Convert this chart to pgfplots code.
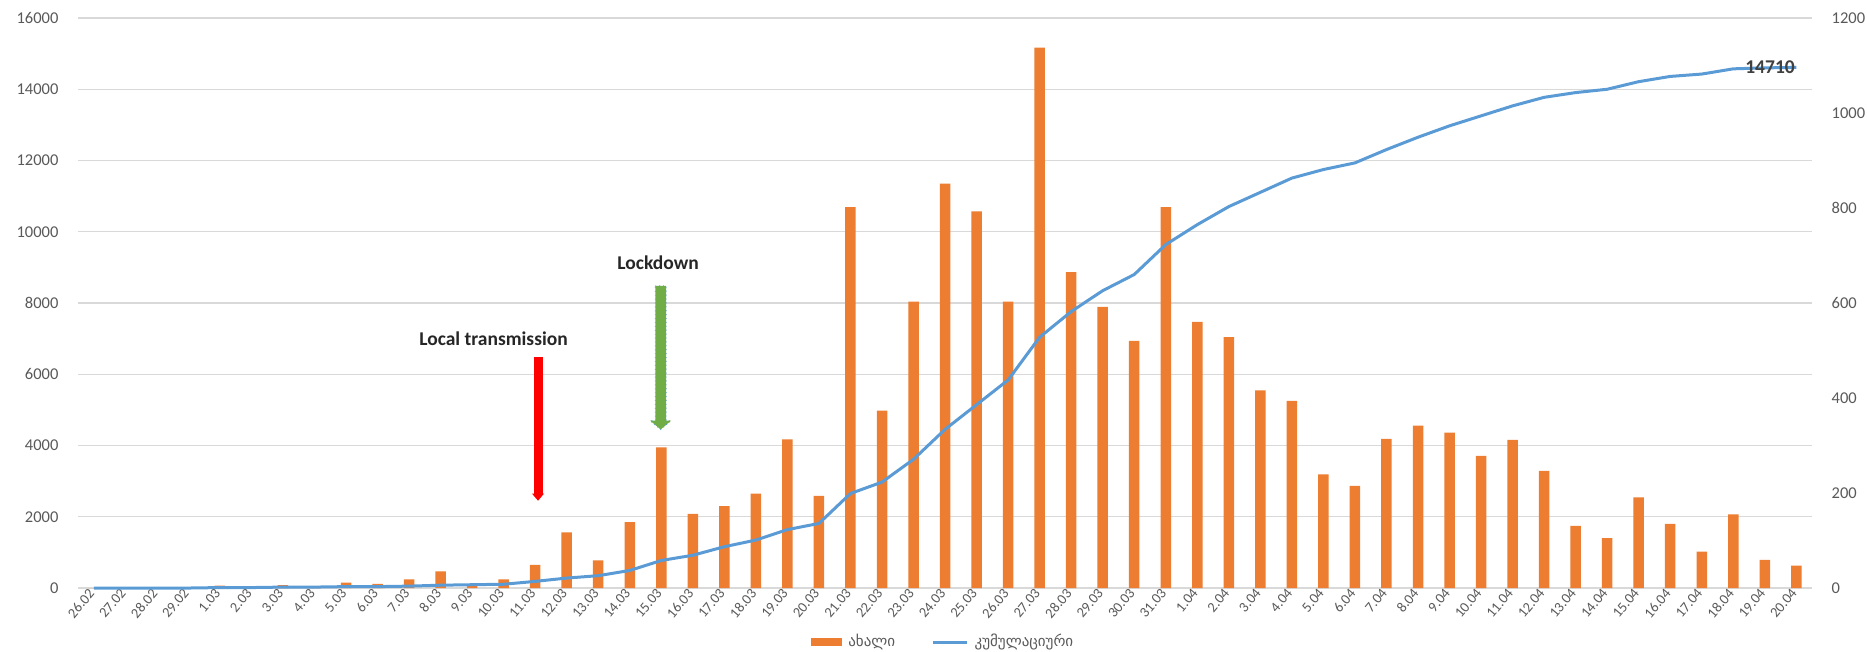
\documentclass[border=0pt]{standalone}
\usepackage{pgfplots}
\pgfplotsset{compat=1.18}
\usepackage{pgfplotstable}
\usepackage{fontspec}
\setmainfont{Carlito}
\newfontfamily\geo{DejaVu Sans}
\usetikzlibrary{arrows.meta}

\definecolor{barorange}{HTML}{ED7D31}
\definecolor{lineblue}{HTML}{5B9BD5}
\definecolor{gridgray}{HTML}{D9D9D9}
\definecolor{tickgray}{HTML}{595959}
\definecolor{arrowgreen}{HTML}{70AD47}

% idx, new per day (left axis), cumulative (right axis)
\pgfplotstableread{
idx new cum
0 0 0
1 0 0
2 0 0
3 0 0
4 70 1
5 0 1
6 80 2
7 0 2
8 150 3
9 120 3
10 240 4
11 470 6
12 100 7
13 240 8
14 650 14
15 1560 21
16 780 26
17 1850 37
18 3950 58
19 2085 69
20 2300 87
21 2650 101
22 4170 123
23 2590 136
24 10690 199
25 4980 223
26 8040 271
27 11350 334
28 10570 386
29 8040 438
30 15170 528
31 8870 582
32 7890 626
33 6940 660
34 10690 723
35 7470 765
36 7040 803
37 5550 833
38 5255 863
39 3190 881
40 2870 895
41 4190 923
42 4560 949
43 4360 973
44 3710 994
45 4160 1015
46 3290 1033
47 1745 1043
48 1400 1050
49 2545 1066
50 1800 1077
51 1020 1082
52 2065 1093
53 790 1095
54 630 1096
}\covid

\begin{document}
\begin{tikzpicture}
\pgfplotsset{
  base/.style={
    width=578pt, height=190pt, scale only axis,
    xmin=-0.5, xmax=54.5, ymin=0,
    axis line style={draw=none},
    tick style={draw=none},
    scaled y ticks=false,
    tick label style={font=\fontsize{5.5}{6}\selectfont, text=tickgray},
    /pgf/number format/assume math mode=true,
    /pgf/number format/1000 sep={},
    clip=false,
  }
}
\begin{axis}[base,
    ymax=16000, ytick={0,2000,...,16000},
    ymajorgrids, grid style={gridgray, line width=0.4pt},
    yticklabel style={xshift=-3pt},
    xtick={0,...,54},
    xticklabels={26.02,27.02,28.02,29.02,1.03,2.03,3.03,4.03,5.03,6.03,7.03,8.03,9.03,10.03,11.03,12.03,13.03,14.03,15.03,16.03,17.03,18.03,19.03,20.03,21.03,22.03,23.03,24.03,25.03,26.03,27.03,28.03,29.03,30.03,31.03,1.04,2.04,3.04,4.04,5.04,6.04,7.04,8.04,9.04,10.04,11.04,12.04,13.04,14.04,15.04,16.04,17.04,18.04,19.04,20.04},
    xticklabel style={rotate=50, anchor=east, inner sep=1pt, font=\fontsize{4.8}{5}\selectfont},
    legend columns=2,
    legend style={at={(0.5,-0.095)}, anchor=center, draw=none, fill=none,
      font=\geo\fontsize{5}{6}\selectfont, text=tickgray,
      /tikz/every even column/.append style={column sep=10pt}},
  ]
  \coordinate (ll) at (rel axis cs:0,0);
  \coordinate (ur) at (rel axis cs:1,1);
  \addplot[ybar, bar width=3.5pt, fill=barorange, draw=none,
    legend image code/.code={\fill[barorange] (0pt,-1.3pt) rectangle (10.5pt,1.3pt);}]
    table[x=idx, y=new] {\covid};
  \addlegendentry{ახალი}
  \addlegendimage{legend image code/.code={\draw[lineblue, line width=1pt] (0pt,0pt) -- (11.5pt,0pt);}}
  \addlegendentry{კუმულაციური}

  % annotations
  \node[font=\bfseries\fontsize{6.5}{7}\selectfont, text=black!85] at (axis cs:12.68,7000) {Local transmission};
  \fill[red] ([xshift=-1.5pt]axis cs:14.09,6490) rectangle ([xshift=1.5pt]axis cs:14.09,2650);
  \fill[red] ([xshift=-2pt]axis cs:14.09,2650) -- ([xshift=2pt]axis cs:14.09,2650) -- (axis cs:14.09,2450) -- cycle;

  \node[font=\bfseries\fontsize{6.5}{7}\selectfont, text=black!85] at (axis cs:17.9,9130) {Lockdown};
  \filldraw[fill=arrowgreen, draw=lineblue, densely dotted, line width=0.3pt]
    ([xshift=-1.8pt]axis cs:17.98,8480) -- ([xshift=1.8pt]axis cs:17.98,8480)
    -- ([xshift=1.8pt]axis cs:17.98,4700) -- ([xshift=3.5pt]axis cs:17.98,4700)
    -- (axis cs:17.98,4450) -- ([xshift=-3.5pt]axis cs:17.98,4700)
    -- ([xshift=-1.8pt]axis cs:17.98,4700) -- cycle;
\end{axis}

\begin{axis}[base,
    ymax=1200, ytick={0,200,...,1200},
    axis y line*=right, axis x line=none,
    yticklabel style={xshift=3pt},
    xtick=\empty,
  ]
  \addplot[lineblue, line width=1pt, line join=round, mark=none]
    table[x=idx, y=cum] {\covid};
  \node[anchor=east, font=\bfseries\fontsize{6.5}{7}\selectfont, text=black!75] at ([xshift=3pt]axis cs:54,1096) {14710};
\end{axis}

\pgfresetboundingbox
\path ([xshift=-26pt,yshift=-21.3pt]ll) rectangle ([xshift=18.3pt,yshift=6pt]ur);
\end{tikzpicture}
\end{document}
